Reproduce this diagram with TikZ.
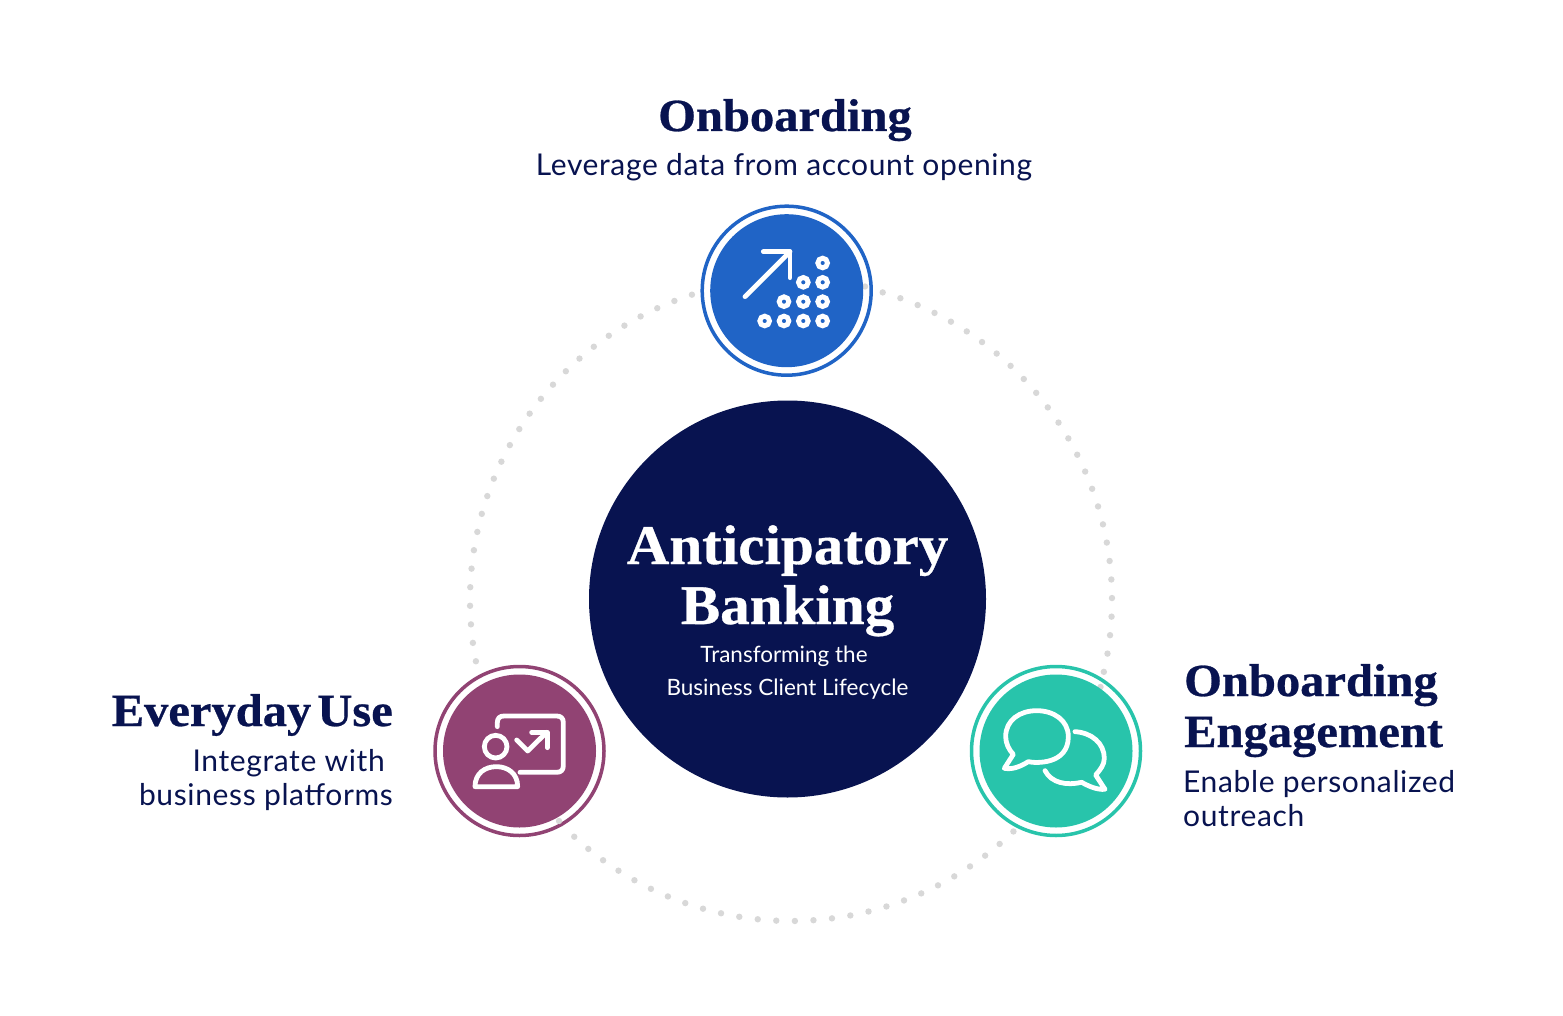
\documentclass[tikz,border=0pt]{standalone}
\usepackage{fontspec}
\setmainfont{Lato}
\newfontfamily\leadfont{Lato}[LetterSpace=2.1]
\newfontfamily\headfont{Liberation Serif}[BoldFont={Liberation Serif Bold},BoldFeatures={FakeStretch=1.055,FakeBold=0.6,WordSpace=0.5}]
\definecolor{navy}{HTML}{081350}
\definecolor{bluec}{HTML}{2064C6}
\definecolor{purplec}{HTML}{914373}
\definecolor{tealc}{HTML}{28C4AB}
\definecolor{dotc}{HTML}{D8D8D8}
\tikzset{
  head/.style={font=\headfont\bfseries\fontsize{46}{46}\selectfont,text=navy,inner sep=0pt},
  lead/.style={font=\leadfont\fontsize{30}{30}\selectfont,text=navy,inner sep=0pt},
  chead/.style={font=\headfont\bfseries\fontsize{56}{56}\selectfont,text=white,inner sep=0pt},
  csub/.style={font=\fontsize{22.5}{22.5}\selectfont,text=white,inner sep=0pt},
  ring/.style={circle,draw=#1,line width=3.5pt,fill=white,minimum size=169pt,inner sep=0pt},
  disc/.style={circle,fill=#1,minimum size=153pt,inner sep=0pt},
  iconline/.style={draw=white,line width=4.8pt,line cap=round,line join=round}
}
\begin{document}
\begin{tikzpicture}[x=1pt,y=-1pt]
\useasboundingbox (0,0) rectangle (1563,1016);
\fill[white] (0,0) rectangle (1563,1016);
% dotted orbit
\foreach \a in {0,...,107}{
  \fill[dotc] ({791+321*sin(16.6+\a*3.3206)},{600-321*cos(16.6+\a*3.3206)}) circle (3.2pt);
}
% centre
\node[circle,fill=navy,minimum size=397pt,inner sep=0pt] (core) at (787.5,599) {};
\node[chead,anchor=base] (t1) at (787.5,564) {Anticipatory};
\node[chead,anchor=base] (t2) at (787.5,624) {Banking};
\node[csub,anchor=base] (t3) at (784,662) {Transforming the};
\node[csub,anchor=base] (t4) at (787.5,695) {Business Client Lifecycle};
% rings
\node[ring=bluec] (r1) at (786.7,290.7) {};
\node[ring=purplec] (r2) at (519.5,751) {};
\node[ring=tealc] (r3) at (1056,751) {};
\fill[dotc] (865,286.5) circle (3.2pt);
\fill[dotc] (559,821) circle (3.2pt);
\fill[dotc] (1100.5,687) circle (3.2pt);
\node[disc=bluec] (d1) at (786.7,290.7) {};
\node[disc=purplec] (d2) at (519.5,751) {};
\node[disc=tealc] (d3) at (1056,751) {};
% blue icon
\begin{scope}[shift={(690,195)},x=0.3333pt,y=-0.3333pt]
  \draw[iconline] (165,305) -- (300,170);
  \draw[iconline] (220,170) -- (300,170) -- (300,248);
  \foreach \p in {(224,378),(282,378),(340,378),(398,378),(282,320),(340,320),(398,320),(340,262),(398,262),(398,204)}{
    \draw[white,line width=4.9pt] \p circle (14.5);
  }
\end{scope}
% purple icon
\begin{scope}[shift={(425,655)},x=0.3333pt,y=-0.3333pt]
  \draw[iconline] (217,215) -- (217,203) .. controls (217,190) and (224,183) .. (237,183) -- (395,183) .. controls (408,183) and (415,190) .. (415,203) -- (415,332) .. controls (415,345) and (408,352) .. (395,352) -- (285,352);
  \draw[iconline] (212,275) circle (34);
  \draw[iconline] (150,395) .. controls (150,355) and (180,335) .. (214,335) .. controls (248,335) and (278,355) .. (278,395) -- cycle;
  \draw[iconline] (275,255) -- (308,288) -- (365,232);
  \draw[iconline] (320,232) -- (367,232) -- (367,278);
\end{scope}
% teal icon
\begin{scope}[shift={(960,655)},x=0.3333pt,y=-0.3333pt]
  \draw[iconline] (205,320) .. controls (225,325) and (325,330) .. (325,245) .. controls (325,195) and (280,167) .. (230,167) .. controls (180,167) and (137,195) .. (137,245) .. controls (137,265) and (147,285) .. (160,298) -- (133,340) .. controls (160,345) and (185,332) .. (205,320) -- cycle;
  \draw[iconline] (345,230) .. controls (395,233) and (433,265) .. (433,310) .. controls (433,330) and (420,345) .. (407,360) -- (435,403) .. controls (410,405) and (385,393) .. (365,382) .. controls (320,392) and (275,385) .. (255,347);
\end{scope}
% labels
\node[head,anchor=base] (a1) at (785,131) {Onboarding};
\node[lead,anchor=base] (a2) at (784,176) {Leverage data from account opening};
\node[head,anchor=base east] (b1) at (393,726) {Everyday Use};
\node[lead,anchor=base east] (b2) at (385,771) {Integrate with};
\node[lead,anchor=base east] (b3) at (393,805) {business platforms};
\node[head,anchor=base west] (c1) at (1184,696) {Onboarding};
\node[head,anchor=base west] (c2) at (1184,747) {Engagement};
\node[lead,anchor=base west] (c3) at (1183,792) {Enable personalized};
\node[lead,anchor=base west] (c4) at (1183,826) {outreach};
\end{tikzpicture}
\end{document}
